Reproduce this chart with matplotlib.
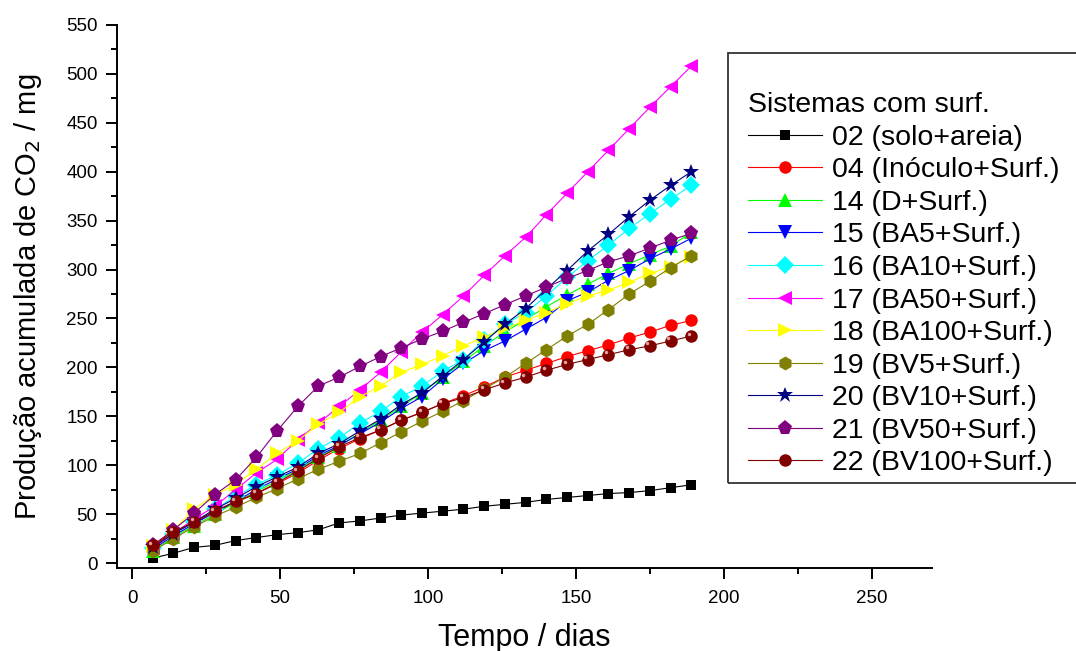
import matplotlib
matplotlib.use('Agg')
from matplotlib import pyplot as plt
from matplotlib.patches import Rectangle
from matplotlib.ticker import MultipleLocator
from matplotlib.transforms import offset_copy

plt.rcParams['font.family'] = ['Liberation Sans', 'DejaVu Sans']

# days of measurement
dias = [7, 14, 21, 28, 35, 42, 49, 56, 63, 70, 77, 84, 91, 98, 105, 112,
        119, 126, 133, 140, 147, 154, 161, 168, 175, 182, 189]

# accumulated CO2 (mg) per system
s02 = [5, 10, 16, 18, 23, 26, 29, 31, 34, 41, 43, 46, 49, 51, 53, 55,
       58, 60, 62, 65, 67, 69, 71, 72, 74, 77, 80]
s04 = [17, 31, 41, 52, 62, 71, 81, 92, 105, 117, 127, 136, 146, 154, 163, 171,
       180, 190, 197, 204, 211, 217, 223, 230, 236, 243, 248]
s14 = [12, 27, 38, 50, 62, 73, 84, 95, 108, 120, 133, 146, 160, 174, 190, 206,
       222, 236, 249, 262, 274, 285, 296, 306, 315, 324, 338]
s15 = [14, 28, 40, 52, 63, 75, 86, 96, 110, 120, 132, 144, 158, 170, 188, 204,
       217, 227, 239, 251, 268, 277, 289, 299, 311, 321, 332]
s16 = [15, 30, 42, 55, 68, 80, 90, 102, 117, 128, 143, 155, 170, 181, 196, 208,
       228, 244, 256, 273, 292, 309, 325, 342, 357, 372, 386]
s17 = [15, 30, 45, 58, 75, 92, 106, 126, 143, 160, 177, 195, 216, 236, 254, 273,
       294, 314, 333, 356, 378, 400, 422, 444, 466, 487, 508]
s18 = [17, 34, 55, 70, 80, 96, 112, 125, 142, 154, 170, 181, 195, 203, 212, 222,
       231, 240, 248, 256, 265, 273, 279, 287, 296, 303, 313]
s19 = [12, 25, 37, 48, 57, 67, 76, 86, 96, 104, 112, 123, 134, 145, 155, 166,
       178, 190, 204, 218, 232, 244, 259, 275, 288, 302, 314]
s20 = [16, 30, 42, 55, 66, 78, 88, 98, 112, 122, 135, 147, 162, 174, 191, 208,
       226, 244, 260, 280, 299, 319, 336, 354, 371, 386, 400]
s21 = [18, 34, 51, 70, 85, 108, 135, 160, 181, 190, 201, 211, 220, 229, 237, 246,
       255, 264, 273, 282, 291, 299, 308, 314, 322, 330, 337]
s22 = [18, 32, 42, 53, 63, 71, 82, 94, 107, 119, 128, 136, 146, 154, 163, 169,
       177, 184, 190, 197, 203, 208, 213, 218, 222, 227, 232]

rotulos = ["02 (solo+areia)", "04 (Inóculo+Surf.)", "14 (D+Surf.)", "15 (BA5+Surf.)",
           "16 (BA10+Surf.)", "17 (BA50+Surf.)", "18 (BA100+Surf.)", "19 (BV5+Surf.)",
           "20 (BV10+Surf.)", "21 (BV50+Surf.)", "22 (BV100+Surf.)"]
series = [s02, s04, s14, s15, s16, s17, s18, s19, s20, s21, s22]
cores = ['#000000', '#FF0000', '#00FF00', '#0000FF', '#00FFFF', '#FF00FF',
         '#FFFF00', '#808000', '#000080', '#800080', '#800000']
marcadores = ['s', 'o', '^', 'v', 'D', '<', '>', 'h', '*', 'p', 'o']
tamanhos = [7, 9, 10.5, 10.5, 9, 10.5, 10.5, 10, 12, 11, 9]

fig = plt.figure(figsize=(10.76, 6.51), dpi=100)
ax = fig.add_axes([0.1087, 0.1275, 0.7574, 0.8341])

for y, lab, c, m, ms in zip(series, rotulos, cores, marcadores, tamanhos):
    ax.plot(dias, y, color=c, marker=m, markersize=ms, linewidth=0.8,
            markeredgewidth=0, label=lab)

# small highlight on the "ball" markers of series 22
brilho = offset_copy(ax.transData, fig=fig, x=-2.5, y=2.5, units='dots')
ax.plot(dias, s22, linestyle='none', marker='o', markersize=2.5,
        color='#e6a0a0', markeredgewidth=0, transform=brilho)

ax.set_xlim(-5.1, 270.3)
ax.set_ylim(-5.1, 550)
ax.xaxis.set_major_locator(MultipleLocator(50))
ax.xaxis.set_minor_locator(MultipleLocator(25))
ax.yaxis.set_major_locator(MultipleLocator(50))
ax.yaxis.set_minor_locator(MultipleLocator(25))
ax.tick_params(which='major', direction='out', length=8, width=1.4, labelsize=13.5)
ax.tick_params(which='minor', direction='out', length=4, width=1.4)
ax.tick_params(axis='x', pad=8)
ax.tick_params(axis='y', pad=6)
for s in ['top', 'right']:
    ax.spines[s].set_visible(False)
for s in ['left', 'bottom']:
    ax.spines[s].set_linewidth(1.4)

ax.set_xlabel("Tempo / dias", fontsize=22)
ax.set_ylabel(r"Produção acumulada de CO$_2$ / mg", fontsize=21)
ax.xaxis.set_label_coords(0.5, -0.101)
ax.yaxis.set_label_coords(-0.0897, 0.5)

# legend frame (extends past the right edge like the original)
fig.patches.append(Rectangle((728 / 1076, 1 - 483 / 651), 400 / 1076, 430 / 651,
                             transform=fig.transFigure, fill=False,
                             edgecolor='#333333', linewidth=1.3))
leg = fig.legend(loc='upper left', bbox_to_anchor=(734 / 1076, 1 - 78 / 651),
                 frameon=False, fontsize=20.5, title="Sistemas com surf.",
                 title_fontsize=20.5, alignment='left', borderpad=0,
                 handlelength=2.6, handletextpad=0.35, labelspacing=0.23)

plt.savefig("out.png", dpi=100)
plt.close()
